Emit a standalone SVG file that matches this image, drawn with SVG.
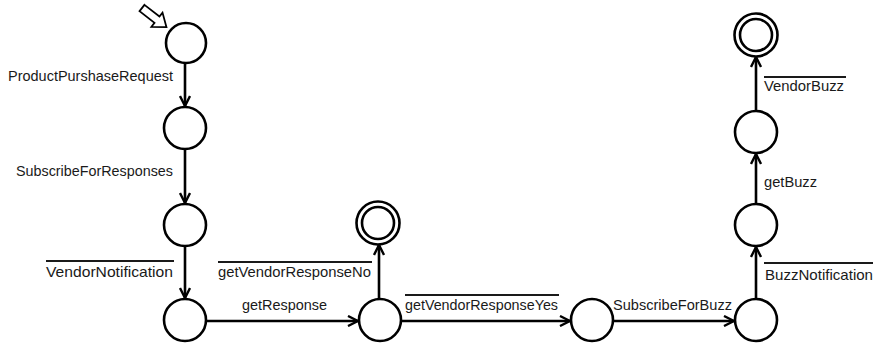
<svg xmlns="http://www.w3.org/2000/svg" width="878" height="348" viewBox="0 0 878 348">
<defs>
<style>
.st{fill:none;stroke:#000;stroke-width:2.6}
.cn{fill:none;stroke:#000;stroke-width:2.6}
.lb{font-family:"Liberation Sans",Arial,sans-serif;font-size:15px;fill:#1a1a1a}
.ov{stroke:#1a1a1a;stroke-width:2}
</style>
<marker id="ah" viewBox="0 0 12 12" refX="11" refY="6" markerWidth="12" markerHeight="12" markerUnits="userSpaceOnUse" orient="auto">
<path d="M1,1 L11,6 L1,11" fill="none" stroke="#000" stroke-width="2.4"/>
</marker>
</defs>
<rect width="878" height="348" fill="#fff"/>
<g id="start">
<polygon points="0,-4 19,-4 19,-9 31,0 19,9 19,4 0,4" fill="#fff" stroke="#000" stroke-width="1.8" transform="translate(142,8) rotate(38)"/>
</g>
<g id="n1"><circle class="st" cx="186" cy="43" r="20"/></g>
<g id="n2"><circle class="st" cx="185" cy="128" r="21"/></g>
<g id="n3"><circle class="st" cx="185" cy="225" r="21"/></g>
<g id="n4"><circle class="st" cx="185" cy="320" r="21"/></g>
<g id="n5"><circle class="st" cx="380" cy="320" r="21"/></g>
<g id="n6"><circle class="st" cx="378" cy="223" r="21.5"/><circle class="st" cx="378" cy="223" r="16"/></g>
<g id="n7"><circle class="st" cx="592" cy="320" r="21"/></g>
<g id="n8"><circle class="st" cx="756" cy="320" r="21"/></g>
<g id="n9"><circle class="st" cx="756" cy="225" r="21"/></g>
<g id="n10"><circle class="st" cx="756" cy="132" r="21"/></g>
<g id="n11"><circle class="st" cx="756" cy="35" r="21.5"/><circle class="st" cx="756" cy="35" r="16"/></g>
<g id="connectors">
<line class="cn" x1="185" y1="63" x2="185" y2="106" marker-end="url(#ah)"/>
<line class="cn" x1="185" y1="149" x2="185" y2="203" marker-end="url(#ah)"/>
<line class="cn" x1="185" y1="246" x2="185" y2="298" marker-end="url(#ah)"/>
<line class="cn" x1="206" y1="321" x2="358" y2="321" marker-end="url(#ah)"/>
<line class="cn" x1="379" y1="299" x2="379" y2="245" marker-end="url(#ah)"/>
<line class="cn" x1="401" y1="321" x2="570" y2="321" marker-end="url(#ah)"/>
<line class="cn" x1="613" y1="321" x2="734" y2="321" marker-end="url(#ah)"/>
<line class="cn" x1="756" y1="299" x2="756" y2="247" marker-end="url(#ah)"/>
<line class="cn" x1="756" y1="204" x2="756" y2="154" marker-end="url(#ah)"/>
<line class="cn" x1="756" y1="111" x2="756" y2="57" marker-end="url(#ah)"/>
</g>
<g id="labels">
<text class="lb" x="8" y="81" textLength="165" lengthAdjust="spacingAndGlyphs">ProductPurshaseRequest</text>
<text class="lb" x="16" y="176" textLength="157" lengthAdjust="spacingAndGlyphs">SubscribeForResponses</text>
<text class="lb" x="46" y="277" textLength="127" lengthAdjust="spacingAndGlyphs">VendorNotification</text>
<line class="ov" x1="46" y1="261" x2="174" y2="261"/>
<text class="lb" x="242" y="310" textLength="85" lengthAdjust="spacingAndGlyphs">getResponse</text>
<text class="lb" x="218" y="277" textLength="153" lengthAdjust="spacingAndGlyphs">getVendorResponseNo</text>
<line class="ov" x1="218" y1="262" x2="372" y2="262"/>
<text class="lb" x="405" y="310" textLength="153" lengthAdjust="spacingAndGlyphs">getVendorResponseYes</text>
<line class="ov" x1="405" y1="295" x2="559" y2="295"/>
<text class="lb" x="613" y="310" textLength="119" lengthAdjust="spacingAndGlyphs">SubscribeForBuzz</text>
<text class="lb" x="765" y="280" textLength="108" lengthAdjust="spacingAndGlyphs">BuzzNotification</text>
<line class="ov" x1="764" y1="263" x2="873" y2="263"/>
<text class="lb" x="764" y="187" textLength="53" lengthAdjust="spacingAndGlyphs">getBuzz</text>
<text class="lb" x="764" y="91" textLength="80" lengthAdjust="spacingAndGlyphs">VendorBuzz</text>
<line class="ov" x1="764" y1="77" x2="846" y2="77"/>
</g>
</svg>
